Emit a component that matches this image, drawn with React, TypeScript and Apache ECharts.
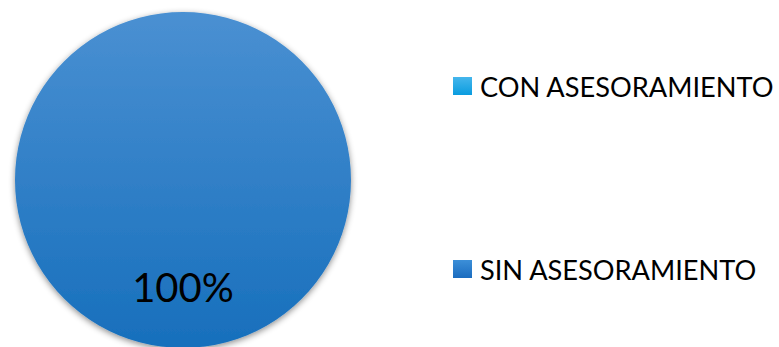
import React, { useEffect, useRef } from "react";
import * as echarts from "echarts";

const categories = ["CON ASESORAMIENTO", "SIN ASESORAMIENTO"];
const values = [0, 100];
const labelTexts = ["", "100%"];

const FONT = "Lato, 'Open Sans', sans-serif";

export default function App() {
  const ref = useRef<HTMLDivElement>(null);
  useEffect(() => {
    document.body.style.margin = "0";
    const chart = echarts.init(ref.current!, undefined, { renderer: "svg" });
    const grad = (a: string, b: string) =>
      new echarts.graphic.LinearGradient(0, 0, 0, 1, [
        { offset: 0, color: a },
        { offset: 1, color: b },
      ]);
    const colors = [grad("#45B6EC", "#0A9CDF"), grad("#4A90D2", "#176FBC")];
    const legendIconColors = [grad("#45B6EC", "#0A9CDF"), grad("#3C8FD8", "#1B6CBF")];
    chart.setOption({
      animation: false,
      legend: categories.map((c, i) => ({
        data: [{ name: c, itemStyle: { color: legendIconColors[i] } }],
        orient: "vertical",
        left: 453,
        top: i === 0 ? 71 : 254,
        padding: 0,
        icon: "rect",
        itemWidth: 19,
        itemHeight: 18,
        itemGap: 8,
        selectedMode: false,
        textStyle: {
          fontFamily: FONT,
          fontSize: 27.2,
          lineHeight: 30,
          color: "#000",
          padding: [0, 0, 0, 3],
        },
      })),
      series: [
        {
          type: "pie",
          center: [183, 180],
          radius: 168,
          startAngle: 90,
          silent: true,
          avoidLabelOverlap: false,
          labelLine: { show: false },
          itemStyle: {
            borderWidth: 0,
            shadowBlur: 6,
            shadowColor: "rgba(0,0,0,0.45)",
            shadowOffsetY: 2,
          },
          label: {
            show: true,
            position: "inside",
            formatter: (p: any) => labelTexts[p.dataIndex],
            fontFamily: FONT,
            fontSize: 40,
            color: "#000",
            offset: [0, 20],
          },
          data: categories.map((c, i) => ({
            name: c,
            value: values[i],
            itemStyle: { color: colors[i] },
            label: { show: values[i] > 0 },
          })),
        },
      ],
    });
    return () => chart.dispose();
  }, []);
  return (
    <div
      ref={ref}
      style={{ position: "fixed", left: 0, top: 0, width: 779, height: 347, background: "#fff" }}
    />
  );
}
